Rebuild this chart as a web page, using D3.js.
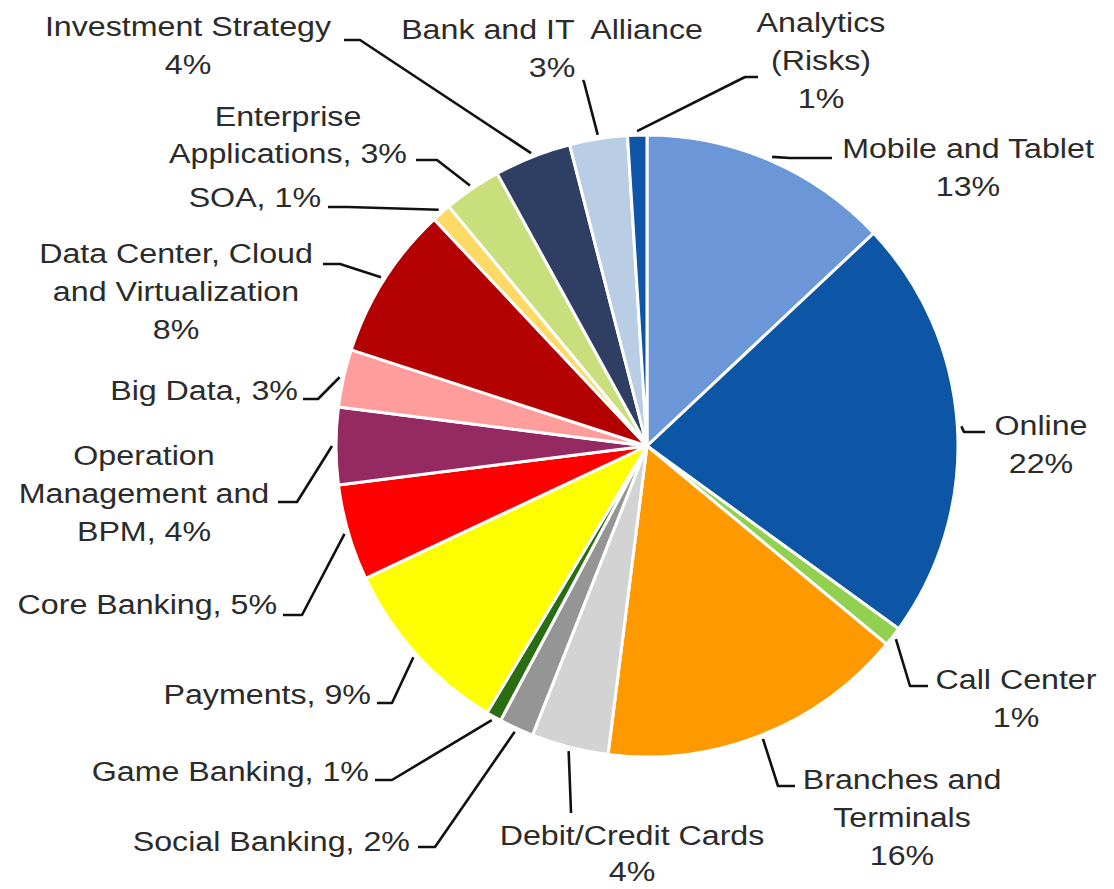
<!DOCTYPE html>
<html>
<head>
<meta charset="utf-8">
<script src="https://cdn.jsdelivr.net/npm/d3@7"></script>
<style>
  body { margin: 0; background: #fff; }
  svg { display: block; }
  text { font-family: "Liberation Sans", Arial, sans-serif; font-size: 28px; fill: #2b2b2b; }
</style>
</head>
<body>
<div id="pie-chart"></div>
<script>
// slices, clockwise from 12 o'clock
const categories = [
    "Mobile and Tablet", "Online", "Call Center", "Branches and Terminals",
    "Debit/Credit Cards", "Social Banking", "Game Banking", "Payments",
    "Core Banking", "Operation Management and BPM", "Big Data",
    "Data Center, Cloud and Virtualization", "SOA", "Enterprise Applications",
    "Investment Strategy", "Bank and IT Alliance", "Analytics (Risks)"
];
// shares as printed on the chart (%)
const shares = [13, 22, 1, 16, 4, 2, 1, 9, 5, 4, 3, 8, 1, 3, 4, 3, 1];
// slice sizes (%)
const values = [13, 22, 1, 16, 4, 1.8, 0.8, 9.4, 5, 4, 3, 8, 1, 3, 4, 3, 1];
const colors = [
    "#6b97d8", "#0d55a5", "#92d050", "#ff9900", "#d3d3d3", "#959595",
    "#2a6e13", "#ffff00", "#ff0000", "#952a62", "#ff9c9c", "#b30000",
    "#ffd966", "#c8df7c", "#2f3f64", "#b9cde5", "#1155a8"
];

// label placement: text lines ({p} = share), anchor, position, line gap, leader elbow + end
const labelLayout = [
    { lines: ["Mobile and Tablet", "{p}"], anchor: "middle", x: 968, y: 158, gap: 38, elbow: [790, 158], end: [832, 158] },
    { lines: ["Online", "{p}"], anchor: "middle", x: 1041, y: 435, gap: 38, elbow: [964, 432], end: [985, 432] },
    { lines: ["Call Center", "{p}"], anchor: "middle", x: 1016, y: 689, gap: 38, elbow: [910, 686], end: [928, 686] },
    { lines: ["Branches and", "Terminals", "{p}"], anchor: "middle", x: 902, y: 789, gap: 38, elbow: [778, 786], end: [795, 786] },
    { lines: ["Debit/Credit Cards", "{p}"], anchor: "middle", x: 632, y: 845, gap: 36, elbow: [571, 812], end: [571, 813] },
    { lines: ["Social Banking, {p}"], anchor: "end", x: 410, y: 851, gap: 38, elbow: [435, 847], end: [418, 847] },
    { lines: ["Game Banking, {p}"], anchor: "end", x: 369, y: 781, gap: 38, elbow: [392, 780], end: [375, 780] },
    { lines: ["Payments, {p}"], anchor: "end", x: 371, y: 704, gap: 38, elbow: [392, 703], end: [377, 703] },
    { lines: ["Core Banking, {p}"], anchor: "end", x: 277, y: 614, gap: 38, elbow: [302, 615], end: [283, 615] },
    { lines: ["Operation", "Management and", "BPM, {p}"], anchor: "middle", x: 144, y: 465, gap: 38, elbow: [297, 502], end: [278, 502] },
    { lines: ["Big Data, {p}"], anchor: "end", x: 298, y: 400, gap: 38, elbow: [318, 399], end: [303, 399] },
    { lines: ["Data Center, Cloud", "and Virtualization", "{p}"], anchor: "middle", x: 176, y: 263, gap: 38, elbow: [340, 264], end: [323, 264] },
    { lines: ["SOA, {p}"], anchor: "end", x: 321, y: 207, gap: 38, elbow: [348, 207], end: [328, 207] },
    { lines: ["Enterprise", "Applications, {p}"], anchor: "middle", x: 288, y: 126, gap: 37, elbow: [437, 160], end: [416, 160] },
    { lines: ["Investment Strategy", "{p}"], anchor: "middle", x: 188, y: 36, gap: 38, elbow: [360, 40], end: [344, 40] },
    { lines: ["Bank and IT  Alliance", "{p}"], anchor: "middle", x: 552, y: 39, gap: 38, elbow: [584, 82], end: [583, 80] },
    { lines: ["Analytics", "(Risks)", "{p}"], anchor: "middle", x: 821, y: 32, gap: 38, elbow: [745, 77], end: [758, 77] }
];

const data = categories.map((c, i) => ({
    name: c,
    share: shares[i],
    value: values[i],
    color: colors[i],
    layout: labelLayout[i]
}));

const createPieChart = (data) => {
    const width = 1114;
    const height = 889;
    const cx = 647;
    const cy = 446;
    const radius = 311;
    const textStretch = 1.15;

    const svg = d3.select("#pie-chart")
        .append("svg")
        .attr("width", width)
        .attr("height", height);

    const g = svg.append("g")
        .attr("transform", `translate(${cx},${cy})`);

    const pie = d3.pie()
        .sort(null)
        .value(d => d.value);

    const arc = d3.arc()
        .innerRadius(0)
        .outerRadius(radius);

    // point just outside the rim, at the middle of a slice
    const rimArc = d3.arc()
        .innerRadius(radius + 4)
        .outerRadius(radius + 4);

    const arcs = pie(data);

    g.selectAll("path.slice")
        .data(arcs)
        .join("path")
        .attr("class", "slice")
        .attr("d", arc)
        .attr("fill", d => d.data.color)
        .attr("stroke", "#fff")
        .attr("stroke-width", 3)
        .attr("stroke-linejoin", "round");

    // leader lines
    svg.selectAll("polyline.leader")
        .data(arcs)
        .join("polyline")
        .attr("class", "leader")
        .attr("points", d => {
            const [px, py] = rimArc.centroid(d);
            const L = d.data.layout;
            return [[px + cx, py + cy], L.elbow, L.end].map(p => p.join(",")).join(" ");
        })
        .attr("fill", "none")
        .attr("stroke", "#111")
        .attr("stroke-width", 2.6)
        .attr("stroke-linejoin", "round");

    // labels
    const labels = svg.selectAll("g.label")
        .data(data)
        .join("g")
        .attr("class", "label")
        .attr("transform", d => `translate(${d.layout.x},${d.layout.y}) scale(${textStretch},1)`);

    labels.each(function (d) {
        const t = d3.select(this).append("text")
            .attr("text-anchor", d.layout.anchor)
            .attr("xml:space", "preserve");
        d.layout.lines.forEach((line, i) => {
            t.append("tspan")
                .attr("x", 0)
                .attr("y", i * d.layout.gap)
                .text(line.replace("{p}", d.share + "%"));
        });
    });
};

createPieChart(data);
</script>
</body>
</html>
